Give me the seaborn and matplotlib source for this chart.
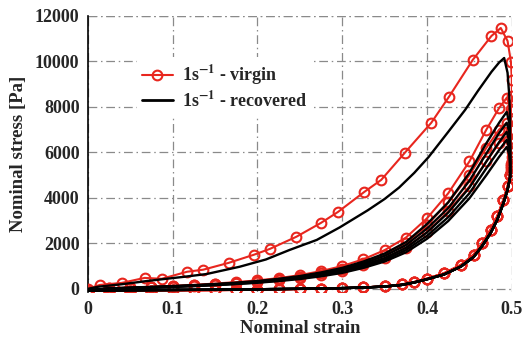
import numpy as np
import pandas as pd
import seaborn as sns
import matplotlib
matplotlib.use("Agg")
import matplotlib.pyplot as plt
from matplotlib.lines import Line2D

# ---------------- data ----------------
# virgin, first loading
v1_load_x = [0.0, 0.014, 0.040, 0.067, 0.087, 0.117, 0.136, 0.166, 0.196, 0.215, 0.246,
             0.275, 0.295, 0.326, 0.346, 0.374, 0.405, 0.426, 0.454, 0.476, 0.487, 0.495]
v1_load_y = [0, 170, 260, 480, 440, 750, 840, 1140, 1500, 1760, 2290,
             2900, 3380, 4260, 4790, 5990, 7300, 8450, 10070, 11120, 11470, 10900]
v1_drop_x = [0.499, 0.500, 0.500, 0.500, 0.500, 0.500, 0.499]
v1_drop_y = [9980, 9200, 8500, 7800, 7000, 6200, 5500]

# recovered, first loading
r1_load_x = [0.0, 0.012, 0.040, 0.067, 0.090, 0.114, 0.140, 0.179, 0.210, 0.238, 0.270,
             0.297, 0.330, 0.350, 0.367, 0.385, 0.402, 0.425, 0.445, 0.460, 0.476, 0.485, 0.491]
r1_load_y = [0, 90, 200, 330, 430, 530, 650, 970, 1290, 1710, 2150,
             2700, 3450, 3950, 4450, 5100, 5800, 6900, 7870, 8700, 9540, 9950, 10150]
r1_drop_x = [0.495, 0.497, 0.498, 0.498, 0.498]
r1_drop_y = [9500, 8500, 7500, 6500, 5600]

# reloading cycles (common strain grid)
reload_x = [0.0, 0.025, 0.05, 0.075, 0.1, 0.125, 0.15, 0.175, 0.2, 0.225, 0.25, 0.275,
            0.3, 0.325, 0.35, 0.375, 0.4, 0.425, 0.45, 0.47, 0.485, 0.494]
v2_reload_y = [-80, 20, 60, 95, 130, 175, 230, 295, 370, 470, 600, 780,
               1000, 1300, 1700, 2250, 3100, 4200, 5600, 7000, 7950, 8400]
v3_reload_y = [-80, 15, 50, 80, 110, 150, 200, 260, 330, 420, 530, 690,
               880, 1150, 1500, 2000, 2800, 3800, 5000, 6200, 7000, 7300]
v4_reload_y = [-80, 10, 40, 70, 100, 135, 180, 235, 300, 380, 480, 620,
               800, 1050, 1350, 1800, 2500, 3400, 4500, 5600, 6400, 6700]
r2_reload_y = [-70, 20, 50, 85, 120, 160, 210, 270, 340, 440, 560, 720,
               920, 1200, 1550, 2050, 2850, 3800, 5100, 6400, 7300, 7780]
r3_reload_y = [-70, 15, 45, 75, 110, 150, 195, 255, 320, 410, 520, 670,
               860, 1120, 1450, 1920, 2650, 3550, 4750, 5950, 6850, 7300]
r4_reload_y = [-70, 12, 40, 70, 100, 140, 180, 235, 300, 385, 490, 630,
               800, 1050, 1350, 1800, 2480, 3350, 4450, 5600, 6450, 6900]
r5_reload_y = [-70, 10, 35, 60, 90, 125, 170, 220, 280, 360, 460, 590,
               750, 980, 1270, 1700, 2330, 3150, 4200, 5300, 6100, 6550]
r6_reload_y = [-70, 8, 30, 55, 85, 118, 160, 210, 265, 340, 430, 550,
               700, 920, 1200, 1600, 2200, 2980, 3980, 5000, 5800, 6240]

# drops from the reloading peaks
v_drop_x = [0.499, 0.500, 0.500, 0.499]
v2_drop_y = [7900, 7000, 6200, 5400]
v3_drop_y = [7000, 6400, 5800, 5300]
v4_drop_y = [6500, 6000, 5600, 5200]
r_drop_x = [0.497, 0.498, 0.498]
r2_drop_y = [7300, 6400, 5500]
r3_drop_y = [6900, 6200, 5400]
r4_drop_y = [6500, 5900, 5300]
r5_drop_y = [6200, 5700, 5200]
r6_drop_y = [5900, 5500, 5100]

# unloading branch (common for all cycles)
unload_x = [0.498, 0.495, 0.490, 0.483, 0.475, 0.465, 0.455, 0.440, 0.420, 0.400, 0.385,
            0.370, 0.350, 0.325, 0.300, 0.275, 0.250, 0.225, 0.200, 0.175, 0.150, 0.125,
            0.100, 0.075, 0.050, 0.025, 0.0]
v_unload_y = [5000, 4500, 3900, 3200, 2600, 2000, 1500, 1050, 680, 450, 300,
              190, 110, 60, 30, 10, -10, -25, -40, -50, -60, -65,
              -70, -75, -80, -85, -80]
r_unload_y = [4900, 4350, 3750, 3050, 2450, 1880, 1400, 980, 630, 420, 280,
              170, 100, 55, 30, 15, 0, -10, -20, -30, -40, -45,
              -50, -55, -60, -65, -70]

x_ticks = [0, 0.1, 0.2, 0.3, 0.4, 0.5]
y_ticks = [0, 2000, 4000, 6000, 8000, 10000, 12000]
legend_labels = [r"1s$^{-1}$ - virgin", r"1s$^{-1}$ - recovered"]

# ---------------- assemble cycles ----------------
def cycle(lx, ly, dx, dy, ux, uy):
    return list(lx) + list(dx) + list(ux), list(ly) + list(dy) + list(uy)

virgin_cycles = [
    cycle(v1_load_x, v1_load_y, v1_drop_x, v1_drop_y, unload_x, v_unload_y),
    cycle(reload_x, v2_reload_y, v_drop_x, v2_drop_y, unload_x, v_unload_y),
    cycle(reload_x, v3_reload_y, v_drop_x, v3_drop_y, unload_x, v_unload_y),
    cycle(reload_x, v4_reload_y, v_drop_x, v4_drop_y, unload_x, v_unload_y),
]
recovered_cycles = [
    cycle(r1_load_x, r1_load_y, r1_drop_x, r1_drop_y, unload_x, r_unload_y),
    cycle(reload_x, r2_reload_y, r_drop_x, r2_drop_y, unload_x, r_unload_y),
    cycle(reload_x, r3_reload_y, r_drop_x, r3_drop_y, unload_x, r_unload_y),
    cycle(reload_x, r4_reload_y, r_drop_x, r4_drop_y, unload_x, r_unload_y),
    cycle(reload_x, r5_reload_y, r_drop_x, r5_drop_y, unload_x, r_unload_y),
    cycle(reload_x, r6_reload_y, r_drop_x, r6_drop_y, unload_x, r_unload_y),
]

# ---------------- plotting ----------------
sns.set_style("white")
plt.rcParams["font.family"] = ["Liberation Serif", "DejaVu Serif"]
plt.rcParams["font.weight"] = "bold"
plt.rcParams["mathtext.fontset"] = "stix"
plt.rcParams["mathtext.default"] = "bf"

RED = "#e8261e"
GRID = "#8a8a8a"
DASHDOT = (0, (7, 3, 1.2, 3))
fig = plt.figure(figsize=(5.26, 3.39), dpi=100)
ax = fig.add_axes([0.167, 0.138, 0.806, 0.815])

for xs, ys in virgin_cycles:
    sns.lineplot(x=xs, y=ys, sort=False, estimator=None, ax=ax, color=RED,
                 linewidth=1.5, marker="o", markersize=7, markerfacecolor="none",
                 markeredgecolor=RED, markeredgewidth=1.5, zorder=3)
for xs, ys in recovered_cycles:
    sns.lineplot(x=xs, y=ys, sort=False, estimator=None, ax=ax, color="black",
                 linewidth=1.7, zorder=4)

ax.set_xlim(0, 0.5)
ax.set_ylim(-150, 12000)
ax.set_xticks(x_ticks)
ax.set_xticklabels(["0", "0.1", "0.2", "0.3", "0.4", "0.5"])
ax.set_yticks(y_ticks)
ax.set_yticklabels([str(v) for v in y_ticks])
ax.tick_params(length=0, labelsize=13, pad=6)
for lab in ax.get_xticklabels() + ax.get_yticklabels():
    lab.set_fontweight("bold")

ax.grid(True, color=GRID, linestyle=DASHDOT, linewidth=0.9)
ax.axhline(12000, color=GRID, linestyle=DASHDOT, linewidth=0.9, zorder=1)
for s in ["top", "right", "bottom"]:
    ax.spines[s].set_visible(False)
ax.spines["left"].set_color("black")
ax.spines["left"].set_linewidth(1.2)

ax.set_xlabel("Nominal strain", fontsize=13.5, fontweight="bold", labelpad=2)
ax.set_ylabel("Nominal stress [Pa]", fontsize=13.5, fontweight="bold", labelpad=6)

handles = [
    Line2D([], [], color=RED, linewidth=1.5, marker="o", markersize=7,
           markerfacecolor="none", markeredgecolor=RED, markeredgewidth=1.5),
    Line2D([], [], color="black", linewidth=2),
]
leg = ax.legend(handles, legend_labels, loc="upper left", bbox_to_anchor=(0.115, 0.85),
                frameon=True, facecolor="white", edgecolor="none", framealpha=1,
                fontsize=13, handlelength=1.7, handletextpad=0.5, labelspacing=0.18,
                borderpad=0.3, borderaxespad=0)
leg.set_zorder(10)
for t in leg.get_texts():
    t.set_fontweight("bold")

fig.savefig("out.png", dpi=100)
